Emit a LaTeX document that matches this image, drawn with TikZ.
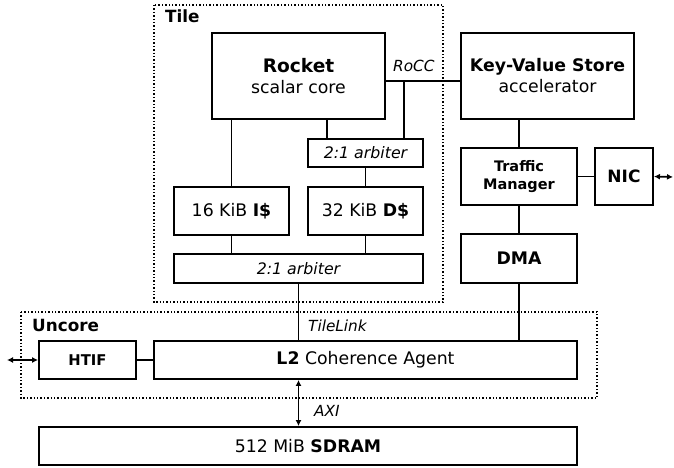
\documentclass[tikz,border=0pt]{standalone}
\usepackage{fontspec}
\setmainfont{DejaVu Sans}
\usetikzlibrary{arrows.meta}
\begin{document}
\begin{tikzpicture}[x=1pt,y=-1pt,
  blk/.style={draw,line width=1.9pt,inner sep=0pt,align=center,font=\fontsize{17.3}{21}\selectfont},
  big/.style={blk,line width=2.9pt},
  frame/.style={draw,dotted,line width=1.4pt},
  wire/.style={line width=1.7pt},
  tip/.style={wire,{Latex[length=6pt,width=6pt]}-{Latex[length=6pt,width=6pt]}},
  lbl/.style={font=\fontsize{15.3}{18}\selectfont\itshape,inner sep=0pt,anchor=base west},
  head/.style={font=\fontsize{16.8}{20}\selectfont\bfseries,inner sep=0pt,anchor=base west},
  arb/.style={blk,font=\fontsize{15.8}{18}\selectfont\itshape}
]
\useasboundingbox (0,0) rectangle (674,468);
% frames
\draw[frame] (154,5) rectangle (443,302);
\draw[frame] (21,312) rectangle (597,398);
\node[head] (tilelbl) at (165,23) {Tile};
\node[head] (uncorelbl) at (32,331) {Uncore};
% blocks
\node[big,minimum width=173pt,minimum height=86pt] (rocket) at (298.5,76)
  {{\fontsize{18.6}{23}\selectfont\bfseries Rocket}\\scalar core};
\node[big,minimum width=173pt,minimum height=86pt] (kv) at (547.5,76)
  {\textbf{Key-Value Store}\\accelerator};
\node[arb,minimum width=115pt,minimum height=28pt] (arb1) at (365.5,153) {2:1 arbiter};
\node[blk,minimum width=115pt,minimum height=48pt] (icache) at (231.5,211) {16 KiB \textbf{I\$}};
\node[blk,minimum width=115pt,minimum height=48pt] (dcache) at (365.5,211) {32 KiB \textbf{D\$}};
\node[arb,minimum width=249pt,minimum height=29pt] (arb2) at (298.5,268.5) {2:1 arbiter};
\node[blk,minimum width=116pt,minimum height=57pt,font=\fontsize{14.5}{18}\selectfont\bfseries] (tm) at (519,176.5) {Traffic\\Manager};
\node[blk,minimum width=58pt,minimum height=57pt,font=\fontsize{17}{20}\selectfont\bfseries] (nic) at (624,176.5) {NIC};
\node[blk,minimum width=116pt,minimum height=49pt,font=\fontsize{17.3}{20}\selectfont\bfseries] (dma) at (519,258.5) {DMA};
\node[blk,minimum width=97pt,minimum height=38pt,font=\fontsize{14.8}{18}\selectfont\bfseries] (htif) at (87.5,360) {HTIF};
\node[blk,minimum width=423pt,minimum height=38pt] (l2) at (365.5,360) {\textbf{L2} Coherence Agent};
\node[blk,minimum width=538pt,minimum height=38pt] (sdram) at (308,446) {512 MiB \textbf{SDRAM}};
% labels
\node[lbl] (rocclbl) at (393,72) {RoCC};
\node[lbl] (tllbl) at (308,331) {TileLink};
\node[lbl] (axilbl) at (314,416) {AXI};
% coordinates
\coordinate (rc) at (327,0);
\coordinate (rv) at (404,81);
\coordinate (lft) at (7,360);
\coordinate (rgt) at (673,177);
% wires
\draw[wire] (rocket.east |- rv) -- (kv.west |- rv);
\draw[wire] (rv) -- (rv |- arb1.north);
\draw[wire] (rocket.south -| rc) -- (arb1.north -| rc);
\draw[wire] (rocket.south -| icache.north) -- (icache.north);
\draw[wire] (arb1.south -| dcache.north) -- (dcache.north);
\draw[wire] (icache.south) -- (arb2.north -| icache.south);
\draw[wire] (dcache.south) -- (arb2.north -| dcache.south);
\draw[wire] (arb2.south) -- (l2.north -| arb2.south);
\draw[wire] (kv.south -| tm.north) -- (tm.north);
\draw[wire] (tm.east) -- (nic.west);
\draw[wire] (tm.south) -- (dma.north);
\draw[wire] (dma.south) -- (l2.north -| dma.south);
\draw[wire] (htif.east) -- (l2.west);
\draw[tip] (lft) -- (htif.west);
\draw[tip] (nic.east) -- (rgt);
\draw[tip] (l2.south -| arb2.south) -- (sdram.north -| arb2.south);
\end{tikzpicture}
\end{document}
